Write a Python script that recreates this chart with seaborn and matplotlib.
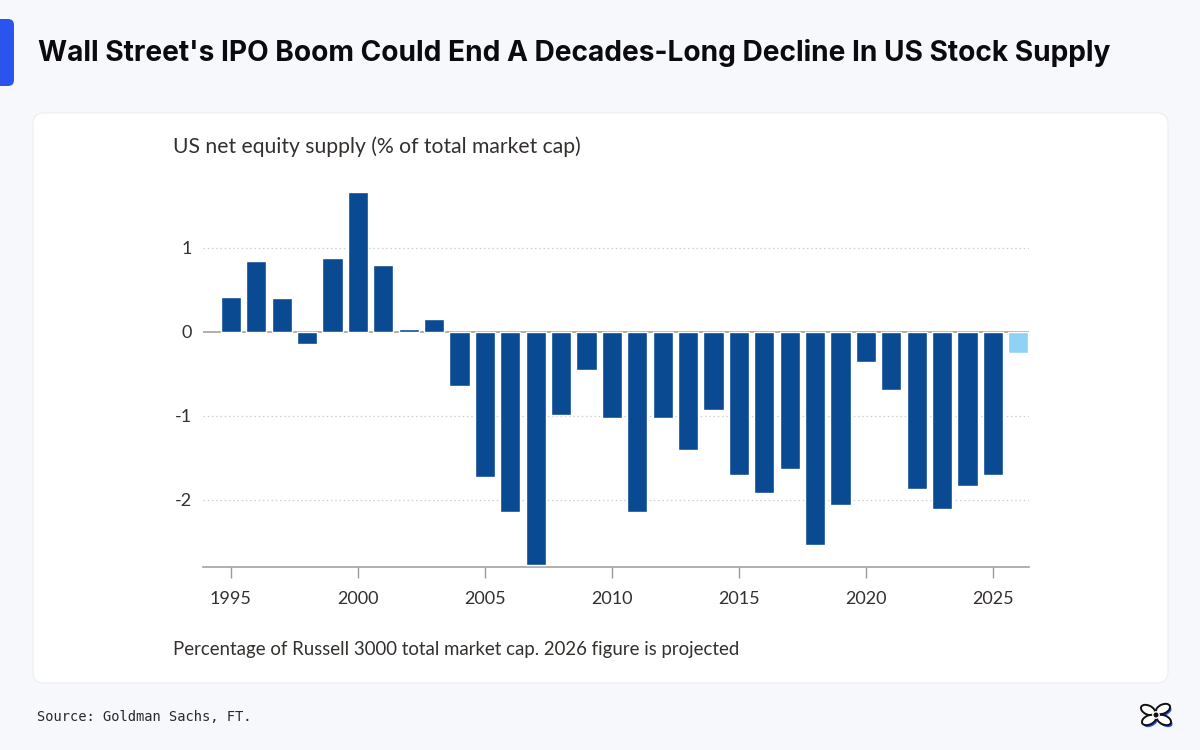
import matplotlib
matplotlib.use("Agg")
import matplotlib.pyplot as plt
import matplotlib.patches as mpatches
from matplotlib.transforms import IdentityTransform
import seaborn as sns
import pandas as pd

# ---- data ----
years = list(range(1995, 2027))
values = [0.42, 0.84, 0.40, -0.14, 0.88, 1.67, 0.80, 0.03, 0.15, -0.65,
          -1.73, -2.15, -2.78, -0.99, -0.45, -1.03, -2.15, -1.03, -1.41, -0.93,
          -1.70, -1.92, -1.63, -2.54, -2.06, -0.36, -0.69, -1.87, -2.11, -1.83,
          -1.70, -0.25]
status = ["Actual"] * 31 + ["Projected"]
x_ticks = [1995, 2000, 2005, 2010, 2015, 2020, 2025]
y_ticks = [-2, -1, 0, 1]
y_tick_labels = ["-2", "-1", "0", "1"]

title = "Wall Street's IPO Boom Could End A Decades-Long Decline In US Stock Supply"
subtitle = "US net equity supply (% of total market cap)"
footnote = "Percentage of Russell 3000 total market cap. 2026 figure is projected"
source = "Source: Goldman Sachs, FT."

df = pd.DataFrame({"year": years, "value": values, "status": status})

BG = "#f7f8fc"
DARK = "#0a4a93"
LIGHT = "#8fd2f4"
TEXT = "#33302e"

sns.set_theme(style="white")
plt.rcParams["font.family"] = ["Lato", "DejaVu Sans"]

fig = plt.figure(figsize=(12, 7.5), dpi=100)
fig.patch.set_facecolor(BG)

ident = IdentityTransform()
# accent bar
accent = mpatches.FancyBboxPatch((-6, 750 - 86), 20, 67,
                                 boxstyle="round,pad=0,rounding_size=6",
                                 facecolor="#2b54ee", edgecolor="none",
                                 transform=ident, zorder=-5)
fig.add_artist(accent)
# card
card = mpatches.FancyBboxPatch((33, 750 - 683), 1135, 570,
                               boxstyle="round,pad=0,rounding_size=11",
                               facecolor="white", edgecolor="#eceef3", linewidth=0.8,
                               transform=ident, zorder=-5)
fig.add_artist(card)

ax = fig.add_axes([203 / 1200, 1 - 567 / 750, (1029 - 203) / 1200, (567 - 180.8) / 750])
ax.set_facecolor("none")

sns.barplot(data=df, x="year", y="value", hue="status",
            palette={"Actual": DARK, "Projected": LIGHT},
            native_scale=True, width=0.8, dodge=False, legend=False,
            saturation=1, ax=ax, zorder=3)

ax.set_xlim(1993.9, 2026.42)
ax.set_ylim(-2.8, 1.8)

for yv in [1, -1, -2]:
    ax.axhline(yv, color="#cfcfcf", linewidth=0.9, linestyle=(0, (1.2, 2.2)), zorder=1)
ax.axhline(0, color="#9a9a9a", linewidth=1.1, zorder=2)

for s in ["top", "right", "left"]:
    ax.spines[s].set_visible(False)
ax.spines["bottom"].set_color("#9a9a9a")
ax.spines["bottom"].set_linewidth(1.1)

ax.set_xticks(x_ticks)
ax.set_xticklabels([str(t) for t in x_ticks])
ax.set_yticks(y_ticks)
ax.set_yticklabels(y_tick_labels)
ax.tick_params(axis="x", length=8, width=1.0, color="#9a9a9a", direction="out",
               pad=9, labelsize=13, labelcolor=TEXT, bottom=True)
ax.tick_params(axis="y", length=0, pad=8, labelsize=13, labelcolor=TEXT)
ax.set_xlabel("")
ax.set_ylabel("")
ax.grid(False)

# texts
fig.text(38 / 1200, 1 - 53 / 750, title, fontsize=20.2, fontweight="bold",
         family=["Inter", "DejaVu Sans"], color="#0b0b0f", va="center", ha="left")
fig.text(173 / 1200, 1 - 147 / 750, subtitle, fontsize=15.2, color=TEXT,
         va="center", ha="left")
fig.text(173 / 1200, 1 - 650 / 750, footnote, fontsize=13.4, color=TEXT,
         va="center", ha="left")
fig.text(37 / 1200, 1 - 717 / 750, source, fontsize=9.9,
         family=["DejaVu Sans Mono"], color="#2a2a2a", va="center", ha="left")

# small logo approximation
cx, cy = 1156, 750 - 715
def leaf(dx, dy, angle):
    sh = mpatches.Ellipse((cx + dx + 1.5, cy + dy - 2), 15, 9, angle=angle,
                          facecolor="#2b54ee", edgecolor="none", transform=ident, zorder=5)
    lf = mpatches.Ellipse((cx + dx, cy + dy), 15, 9, angle=angle,
                          facecolor="white", edgecolor="#111111", linewidth=1.4,
                          transform=ident, zorder=6)
    fig.add_artist(sh)
    fig.add_artist(lf)
leaf(-8, 5, -25)
leaf(7, 6, 25)
leaf(-7, -5, 25)
leaf(8, -5, -25)
fig.add_artist(mpatches.Circle((cx, cy), 3.2, facecolor="#111111", transform=ident, zorder=7))

fig.savefig("out.png", dpi=100, facecolor=BG)
